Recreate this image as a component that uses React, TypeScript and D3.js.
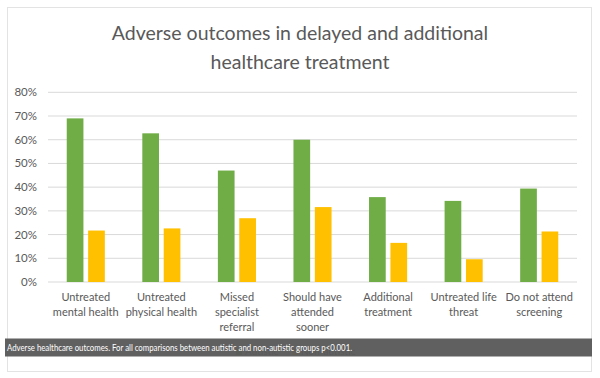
import React from "react";
import * as d3 from "d3";

const categories: string[][] = [
  ["Untreated", "mental health"],
  ["Untreated", "physical health"],
  ["Missed", "specialist", "referral"],
  ["Should have", "attended", "sooner"],
  ["Additional", "treatment"],
  ["Untreated life", "threat"],
  ["Do not attend", "screening"],
];
const autistic = [69, 62.7, 47, 60, 35.8, 34.2, 39.4];
const nonAutistic = [21.7, 22.6, 26.9, 31.6, 16.5, 9.6, 21.3];
const seriesNames = ["Autistic", "Non-autistic"];
const seriesColors = ["#70ad47", "#ffc000"];
const yTicks = [0, 10, 20, 30, 40, 50, 60, 70, 80];
const titleLines = ["Adverse outcomes in delayed and additional", "healthcare treatment"];
const caption = "Adverse healthcare outcomes. For all comparisons between autistic and non-autistic groups p<0.001.";

const W = 600;
const H = 378;
const FONT = "Lato, 'Open Sans', sans-serif";

export default function App() {
  const keys = categories.map((c) => c.join(" "));
  const x0 = d3.scaleBand<string>().domain(keys).range([48, 577]).padding(0);
  const bw = x0.bandwidth();
  const x1 = d3
    .scaleBand<string>()
    .domain(seriesNames)
    .range([bw * 0.248, bw * 0.752])
    .paddingInner(0.22)
    .paddingOuter(0);
  const y = d3.scaleLinear().domain([0, 80]).range([282, 92.3]);
  const series = [autistic, nonAutistic];

  return (
    <svg
      width={W}
      height={H}
      style={{ position: "absolute", left: 0, top: 0, background: "#fff" }}
      fontFamily={FONT}
    >
      <rect x={7.5} y={7.5} width={584} height={364} fill="#fff" stroke="#e3e3e3" />
      {titleLines.map((t, i) => (
        <text
          key={i}
          x={300}
          y={40 + i * 29}
          textAnchor="middle"
          fontSize={19.5}
          fill="#595959"
        >
          {t}
        </text>
      ))}
      {yTicks.map((t) => (
        <g key={t}>
          <line x1={48} x2={577} y1={y(t)} y2={y(t)} stroke="#d9d9d9" strokeWidth={1} />
          <text x={37} y={y(t)} dy="0.35em" textAnchor="end" fontSize={11.5} fill="#595959">
            {t}%
          </text>
        </g>
      ))}
      {keys.map((k, ci) => (
        <g key={k} transform={`translate(${x0(k)},0)`}>
          {seriesNames.map((s, si) => (
            <rect
              key={s}
              x={x1(s)}
              width={x1.bandwidth()}
              y={y(series[si][ci])}
              height={y(0) - y(series[si][ci])}
              fill={seriesColors[si]}
            />
          ))}
          {categories[ci].map((line, li) => (
            <text
              key={li}
              x={bw / 2}
              y={301 + li * 15}
              textAnchor="middle"
              fontSize={11}
              fill="#595959"
            >
              {line}
            </text>
          ))}
        </g>
      ))}
      <g>
        <rect x={236} y={349} width={6} height={6} fill={seriesColors[0]} />
        <text x={245} y={355} fontSize={10} fill="#595959">{seriesNames[0]}</text>
        <rect x={292} y={349} width={6} height={6} fill={seriesColors[1]} />
        <text x={301} y={355} fontSize={10} fill="#595959">{seriesNames[1]}</text>
      </g>
      <rect x={5} y={338.5} width={587} height={18} fill="#5a5a5a" opacity={0.96} />
      <text
        x={7}
        y={351}
        fontSize={9.5}
        fill="#ffffff"
        textLength={345}
        lengthAdjust="spacingAndGlyphs"
      >
        {caption}
      </text>
    </svg>
  );
}
